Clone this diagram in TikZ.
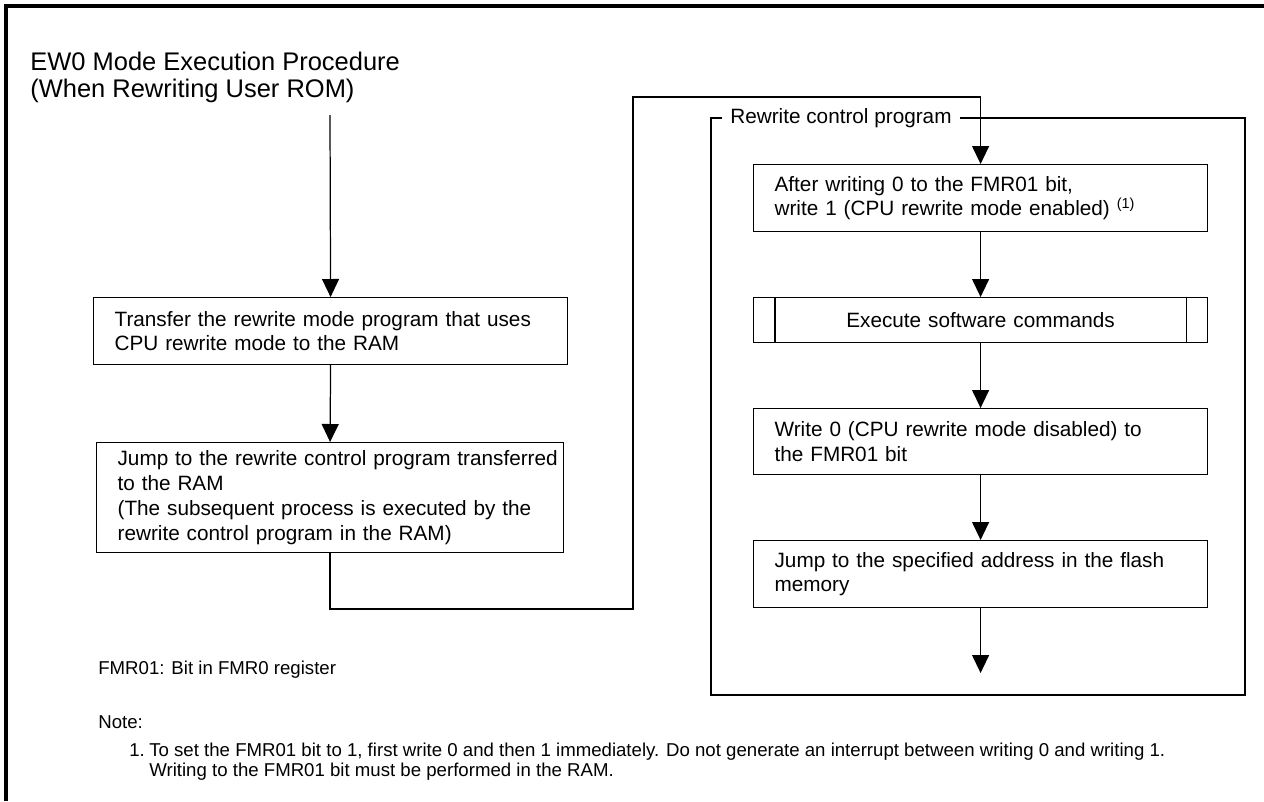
\documentclass[tikz,border=0pt]{standalone}
\usepackage{fontspec}
\setmainfont{Liberation Sans}
\usetikzlibrary{arrows.meta,positioning}
\newcommand{\titlefont}{\fontsize{14.5}{15.2}\selectfont}
\newcommand{\boxfont}{\fontsize{11.8}{14.2}\selectfont}
\newcommand{\smallnotefont}{\fontsize{10.6}{11.4}\selectfont}
\tikzset{
  stepbox/.style={draw, line width=0.7pt, font=\boxfont, inner xsep=0.42cm,
                  inner ysep=0pt, align=left, anchor=north west},
  cmdbox/.style={stepbox, align=center},
  grouplabel/.style={font=\boxfont, inner xsep=0.16cm, inner ysep=0pt, anchor=west},
  flowline/.style={line width=0.7pt},
  flowarrow/.style={flowline, -{Triangle[width=0.34cm, length=0.36cm]}},
  framebar/.style={line width=1.8pt},
  notetext/.style={font=\smallnotefont, inner sep=0pt, anchor=west, align=left},
}
\begin{document}
\begin{tikzpicture}[x=0.02cm, y=-0.02cm]
  \useasboundingbox (0,0) rectangle (1264,801);
  % page frame, top and left only
  \draw[framebar] (6,801) -- (6,6) -- (1264,6);

  \node[font=\titlefont, inner sep=0pt, anchor=north west, align=left] (title) at (30,52)
    {EW0 Mode Execution Procedure\\(When Rewriting User ROM)};

  % left column
  \coordinate (entry) at (330,115);
  \node[stepbox, minimum width=9.48cm, minimum height=1.34cm, text width=8.64cm] (xfer) at (93,297)
    {Transfer the rewrite mode program that uses\\CPU rewrite mode to the RAM};
  \node[stepbox, minimum width=9.34cm, minimum height=2.2cm, text width=8.5cm] (jump) at (96,442)
    {\mbox{Jump to the rewrite control program transferred}\\to the RAM\\(The subsequent process is executed by the\\rewrite control program in the RAM)};
  \draw[flowarrow] (entry) -- (xfer.north);
  \draw[flowarrow] (xfer.south) -- (jump.north);

  % rewrite control program group
  \node[grouplabel] (grp) at (722,118) {Rewrite control program};
  \draw[flowline] (grp.west) -- (711,118) -- (711,695) -- (1245,695) -- (1245,118) -- (grp.east);

  \node[stepbox, minimum width=9.08cm, minimum height=1.34cm, text width=8.24cm] (enable) at (753,164)
    {After writing 0 to the FMR01 bit,\\write 1 (CPU rewrite mode enabled) \textsuperscript{(1)}};
  \node[cmdbox, minimum width=9.08cm, minimum height=0.9cm, text width=8.24cm] (cmds) at (753,297)
    {Execute software commands};
  \draw[flowline] ([xshift=0.44cm]cmds.north west) -- ([xshift=0.44cm]cmds.south west);
  \draw[flowline] ([xshift=-0.44cm]cmds.north east) -- ([xshift=-0.44cm]cmds.south east);
  \node[stepbox, minimum width=9.08cm, minimum height=1.32cm, text width=8.24cm] (disable) at (753,408)
    {Write 0 (CPU rewrite mode disabled) to\\the FMR01 bit};
  \node[stepbox, minimum width=9.08cm, minimum height=1.34cm, text width=8.24cm] (leave) at (753,540)
    {Jump to the specified address in the flash\\memory};
  \coordinate (exit) at (leave.south |- 0,673);

  % route from the left column into the group
  \coordinate (turnlow) at (633,609);
  \coordinate (turnhigh) at (633,97);
  \draw[flowarrow] (jump.south) |- (turnlow) -- (turnhigh) -| (enable.north);
  \draw[flowarrow] (enable.south) -- (cmds.north);
  \draw[flowarrow] (cmds.south) -- (disable.north);
  \draw[flowarrow] (disable.south) -- (leave.north);
  \draw[flowarrow] (leave.south) -- (exit);

  % notes
  \node[notetext] (fmrnote) at (98,670) {FMR01: Bit in FMR0 register};
  \node[notetext] (notehead) at (98,722) {Note:};
  \node[notetext, anchor=north west] (noteno) at (129,743) {1.};
  \node[notetext, anchor=north west] (noteitem) at (149,743)
    {To set the FMR01 bit to 1, first write 0 and then 1 immediately. Do not generate an interrupt between writing 0 and writing 1.\\Writing to the FMR01 bit must be performed in the RAM.};
\end{tikzpicture}
\end{document}
